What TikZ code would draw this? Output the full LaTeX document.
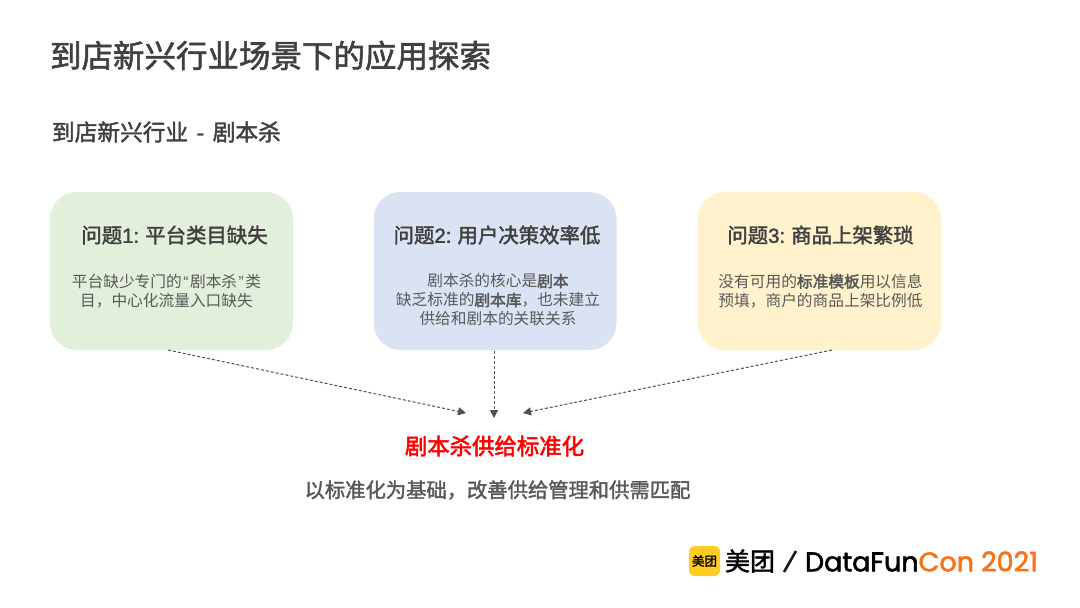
\documentclass[tikz,border=0pt]{standalone}
\usepackage{fontspec}
\setmainfont{Noto Sans CJK SC}
\newfontfamily\medf[FakeBold=1.8]{Noto Sans CJK SC}
\newfontfamily\semf[FakeBold=2.4]{Noto Sans CJK SC}
\newfontfamily\latf{Liberation Sans}
\newfontfamily\latm[FakeBold=1.8]{Liberation Sans}
\newfontfamily\logof[FakeBold=2]{Poppins}
\usetikzlibrary{arrows.meta}
\definecolor{ink}{HTML}{404040}
\definecolor{bodyink}{HTML}{595959}
\definecolor{gbox}{HTML}{E2EFDA}
\definecolor{bbox}{HTML}{DAE3F3}
\definecolor{ybox}{HTML}{FFF2CC}
\definecolor{logoy}{HTML}{FFCC22}
\definecolor{logoo}{HTML}{F97316}
\definecolor{arrowc}{HTML}{505050}
\newcommand{\hl}[1]{{\semf #1}}
\tikzset{
  every node/.style={inner sep=0pt,outer sep=0pt},
  cardbox/.style={rounded corners=27pt,minimum width=243pt,minimum height=158pt},
  cardtitle/.style={font=\fontsize{20.4}{24}\selectfont\medf,text=ink,anchor=center},
  cardbody/.style={font=\fontsize{15.7}{19}\selectfont,text=bodyink,align=center,anchor=center},
  link/.style={draw=arrowc,densely dashed,line width=1pt,-{Triangle[length=8pt,width=8pt]}}
}
\begin{document}
\begin{tikzpicture}[x=1pt,y=-1pt]
\useasboundingbox (0,0) rectangle (1080,608);
\fill[white] (0,0) rectangle (1080,608);
\node[anchor=west,font=\fontsize{31.5}{36}\selectfont\medf,text=ink] (title) at (50,55.5) {到店新兴行业场景下的应用探索};
\node[anchor=west,font=\fontsize{22.7}{26}\selectfont\medf,text=ink] (sub) at (52,132) {到店新兴行业\hspace{8.5pt}{\latm -}\hspace{8.5pt}剧本杀};
\node[cardbox,fill=gbox] (c1) at (171.5,271) {};
\node[cardbox,fill=bbox] (c2) at (495,271) {};
\node[cardbox,fill=ybox] (c3) at (819.5,271) {};
\node[cardtitle] (t1) at (174.5,235) {问题{\latm 1:} 平台类目缺失};
\node[cardtitle] (t2) at (497,235) {问题{\latm 2:} 用户决策效率低};
\node[cardtitle] (t3) at (820.5,235) {问题{\latm 3:} 商品上架繁琐};
\node[cardbody] (b1) at (166.5,291) {平台缺少专门的\hspace{1.5pt}{\latf “}\hspace{1.5pt}剧本杀\hspace{1.5pt}{\latf ”}\hspace{1.5pt}类\\目，中心化流量入口缺失};
\node[cardbody] (b2) at (498,300) {剧本杀的核心是\hl{剧本}\\缺乏标准的\hl{剧本库}，也未建立\\供给和剧本的关联关系};
\node[cardbody] (b3) at (820.5,291) {没有可用的\hl{标准模板}用以信息\\预填，商户的商品上架比例低};
\node[font=\fontsize{22.4}{26}\selectfont\semf,text=red] (goal) at (494.5,446) {剧本杀供给标准化};
\node[font=\fontsize{20.3}{24}\selectfont\medf,text=bodyink] (goal2) at (497.5,490) {以标准化为基础，改善供给管理和供需匹配};
\coordinate (s1) at (168,350);
\coordinate (s2) at (494,351);
\coordinate (s3) at (832,350);
\coordinate (e1) at (466,413);
\coordinate (e2) at (494,418);
\coordinate (e3) at (523,413);
\draw[link] (s1) -- (e1);
\draw[link] (s2) -- (e2);
\draw[link] (s3) -- (e3);
\node[fill=logoy,rounded corners=6pt,minimum width=31pt,minimum height=30pt] (logo) at (704.5,561) {};
\node[font=\fontsize{12.5}{14}\selectfont\medf,text=black] (logot) at (704.5,561) {美团};
\node[anchor=west,font=\fontsize{25}{26}\selectfont\medf,text=black] (mt) at (725,561) {美团};
\coordinate (sl1) at (784,572);
\coordinate (sl2) at (796,551);
\draw[line width=2.6pt,black!90] (sl1) -- (sl2);
\node[anchor=west,font=\fontsize{27}{28}\selectfont\logof,text=black] (df) at (805,561.5) {DataFun\textcolor{logoo}{Con 2021}};
\end{tikzpicture}
\end{document}
